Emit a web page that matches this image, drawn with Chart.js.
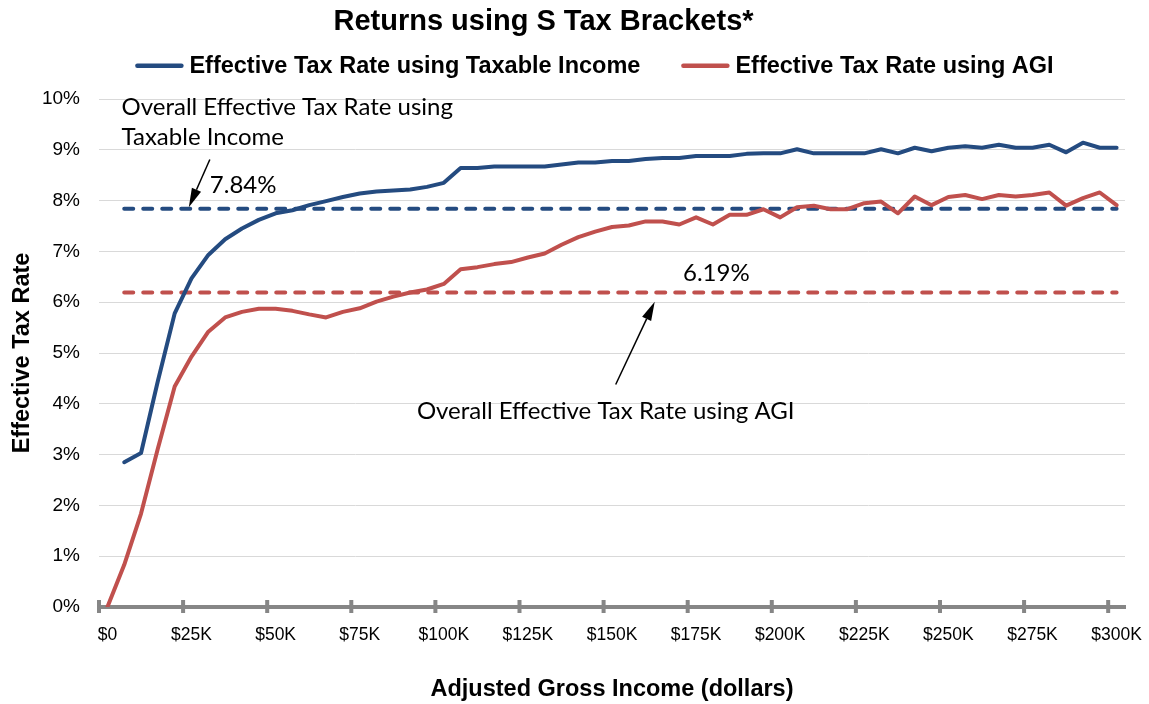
<!DOCTYPE html>
<html>
<head>
<meta charset="utf-8">
<script src="https://cdn.jsdelivr.net/npm/chart.js@4.4.1/dist/chart.umd.min.js"></script>
<style>
  html, body { margin: 0; padding: 0; background: #ffffff; }
  #wrap { position: relative; width: 1149px; height: 704px; }
</style>
</head>
<body>
<div id="wrap"><canvas id="chart"></canvas></div>
<script>
// AGI brackets, in thousands of dollars
const agiThousands = [0, 5, 10, 15, 20, 25, 30, 35, 40, 45, 50, 55, 60, 65, 70, 75, 80, 85, 90, 95,
  100, 105, 110, 115, 120, 125, 130, 135, 140, 145, 150, 155, 160, 165, 170, 175, 180, 185, 190, 195,
  200, 205, 210, 215, 220, 225, 230, 235, 240, 245, 250, 255, 260, 265, 270, 275, 280, 285, 290, 295, 300];

// Effective tax rate (%) computed on taxable income
const rateTaxable = [null, 2.85, 3.03, 4.45, 5.78, 6.47, 6.93, 7.24, 7.45, 7.62,
  7.75, 7.81, 7.91, 7.99, 8.07, 8.14, 8.18, 8.20, 8.22, 8.27,
  8.35, 8.64, 8.64, 8.67, 8.67, 8.67, 8.67, 8.71, 8.75, 8.75,
  8.78, 8.78, 8.82, 8.84, 8.84, 8.88, 8.88, 8.88, 8.92, 8.93,
  8.93, 9.01, 8.93, 8.93, 8.93, 8.93, 9.01, 8.93, 9.04, 8.97,
  9.04, 9.07, 9.04, 9.10, 9.04, 9.04, 9.10, 8.95, 9.14, 9.04, 9.04];

// Effective tax rate (%) computed on AGI
const rateAGI = [0.00, 0.83, 1.84, 3.12, 4.34, 4.93, 5.42, 5.70, 5.81, 5.87,
  5.87, 5.83, 5.76, 5.70, 5.81, 5.88, 6.01, 6.11, 6.19, 6.25,
  6.36, 6.65, 6.69, 6.75, 6.79, 6.88, 6.96, 7.13, 7.28, 7.39,
  7.48, 7.51, 7.59, 7.59, 7.53, 7.67, 7.53, 7.72, 7.72, 7.83,
  7.67, 7.87, 7.90, 7.83, 7.83, 7.95, 7.98, 7.75, 8.08, 7.91,
  8.07, 8.11, 8.03, 8.11, 8.08, 8.11, 8.16, 7.90, 8.05, 8.16, 7.91];

// Overall effective rates across all returns
const overallTaxable = 7.84;
const overallAGI = 6.19;

// Y axis range (percent)
const yRange = [0, 10];
const yStep = 1;
const labelEvery = 5;

const chartTitle = 'Returns using S Tax Brackets*';
const seriesNames = ['Effective Tax Rate using Taxable Income', 'Effective Tax Rate using AGI'];
const xTitle = 'Adjusted Gross Income (dollars)';
const yTitle = 'Effective Tax Rate';

const BLUE = '#244B80';
const RED = '#C0504D';
const AXIS_GRAY = '#868686';
const SANS = '"Liberation Sans", Arial, sans-serif';
const NOTE_FONT = '24px Lato, "Open Sans", sans-serif';

const categories = agiThousands.map(v => (v === 0 ? '$0' : '$' + v + 'K'));
const firstIdx = 1, lastIdx = categories.length - 1;

// Callout texts and arrows, anchored in axis units (category index, percent)
const notes = [
  { text: 'Overall Effective Tax Rate using', at: [0.84, 9.69] },
  { text: 'Taxable Income', at: [0.84, 9.10] },
  { text: overallTaxable.toFixed(2) + '%', at: [6.09, 8.15] },
  { text: overallAGI.toFixed(2) + '%', at: [34.22, 6.42] },
  { text: 'Overall Effective Tax Rate using AGI', at: [18.4, 3.71] }
];
const arrows = [
  { from: [6.09, 8.81], to: [4.84, 7.87] },
  { from: [30.22, 4.38], to: [32.54, 6.01] }
];

// Title and legend header drawn above the plot
const headerPlugin = {
  id: 'header',
  afterDraw(chart) {
    const ctx = chart.ctx;
    ctx.save();
    ctx.fillStyle = '#000';
    ctx.textBaseline = 'alphabetic';
    ctx.font = 'bold 29px ' + SANS;
    ctx.textAlign = 'center';
    ctx.fillText(chartTitle, 543.5, 30);

    ctx.font = 'bold 23.5px ' + SANS;
    ctx.textAlign = 'left';
    const items = chart.data.datasets.filter(d => d.showInLegend);
    const sampleW = 48, sampleGap = 6, itemGap = 41;
    const widths = items.map(d => ctx.measureText(d.label).width);
    const total = widths.reduce((a, w) => a + sampleW + sampleGap + w, 0) + itemGap * (items.length - 1);
    let x = 594.5 - total / 2;
    items.forEach((d, i) => {
      ctx.strokeStyle = d.borderColor;
      ctx.lineWidth = 4.5;
      ctx.lineCap = 'round';
      ctx.beginPath();
      ctx.moveTo(x + 2, 65.7);
      ctx.lineTo(x + sampleW - 2, 65.7);
      ctx.stroke();
      x += sampleW + sampleGap;
      ctx.fillText(d.label, x, 72.5);
      x += widths[i] + itemGap;
    });
    ctx.restore();
  }
};

// Axis tick marks that straddle the x axis line
const axisTickPlugin = {
  id: 'axisTicks',
  afterDraw(chart) {
    const xs = chart.scales.x;
    const ctx = chart.ctx;
    const half = (xs.getPixelForValue(1) - xs.getPixelForValue(0)) / 2;
    const yb = chart.chartArea.bottom;
    ctx.save();
    ctx.fillStyle = AXIS_GRAY;
    for (let i = 0; i < categories.length; i += labelEvery) {
      const px = xs.getPixelForValue(i) - half;
      ctx.fillRect(px - 2, yb - 7, 4, 13);
    }
    ctx.restore();
  }
};

// Callout labels and arrows
const notePlugin = {
  id: 'notes',
  afterDatasetsDraw(chart) {
    const xs = chart.scales.x, ys = chart.scales.y, ctx = chart.ctx;
    const P = a => [xs.getPixelForValue(a[0]), ys.getPixelForValue(a[1])];
    ctx.save();
    ctx.fillStyle = '#000';
    ctx.font = NOTE_FONT;
    ctx.textAlign = 'left';
    ctx.textBaseline = 'alphabetic';
    notes.forEach(n => {
      const [x, y] = P(n.at);
      ctx.fillText(n.text, x, y);
    });
    ctx.strokeStyle = '#000';
    ctx.lineWidth = 1.5;
    arrows.forEach(a => {
      const [x1, y1] = P(a.from);
      const [x2, y2] = P(a.to);
      const ang = Math.atan2(y2 - y1, x2 - x1);
      const headLen = 19, headHalf = 5;
      const bx = x2 - headLen * Math.cos(ang), by = y2 - headLen * Math.sin(ang);
      ctx.beginPath();
      ctx.moveTo(x1, y1);
      ctx.lineTo(bx, by);
      ctx.stroke();
      ctx.beginPath();
      ctx.moveTo(x2, y2);
      ctx.lineTo(bx + headHalf * Math.sin(ang), by - headHalf * Math.cos(ang));
      ctx.lineTo(bx - headHalf * Math.sin(ang), by + headHalf * Math.cos(ang));
      ctx.closePath();
      ctx.fill();
    });
    ctx.restore();
  }
};

const solid = (label, data, color) => ({
  label, data, borderColor: color, backgroundColor: color, showInLegend: true,
  borderWidth: 4, pointRadius: 0, tension: 0, spanGaps: false,
  borderJoinStyle: 'round', borderCapStyle: 'round'
});
const dashed = (label, value, color) => ({
  label,
  data: [{ x: categories[firstIdx], y: value }, { x: categories[lastIdx], y: value }],
  borderColor: color, backgroundColor: color, showInLegend: false,
  borderWidth: 4, pointRadius: 0, borderDash: [9, 10], borderCapStyle: 'round'
});

new Chart(document.getElementById('chart'), {
  type: 'line',
  data: {
    labels: categories,
    datasets: [
      solid(seriesNames[0], rateTaxable, BLUE),
      solid(seriesNames[1], rateAGI, RED),
      dashed('Overall Effective Tax Rate using Taxable Income', overallTaxable, BLUE),
      dashed('Overall Effective Tax Rate using AGI', overallAGI, RED)
    ]
  },
  options: {
    responsive: true,
    maintainAspectRatio: false,
    animation: false,
    devicePixelRatio: 1,
    layout: { padding: { top: 99, right: 24, bottom: 0, left: 0 } },
    plugins: {
      legend: { display: false },
      title: { display: false },
      tooltip: { enabled: false }
    },
    scales: {
      x: {
        type: 'category',
        offset: true,
        grid: {
          display: true, offset: true, drawOnChartArea: false,
          drawTicks: true, tickLength: 14, tickColor: 'rgba(0,0,0,0)'
        },
        border: { display: true, color: AXIS_GRAY, width: 4 },
        ticks: {
          autoSkip: false, maxRotation: 0, minRotation: 0, padding: 4,
          color: '#000', font: { family: SANS, size: 17.5 },
          callback: function (val, i) { return i % labelEvery === 0 ? this.getLabelForValue(val) : ''; }
        },
        title: {
          display: true, text: xTitle, color: '#000',
          font: { family: SANS, size: 23.5, weight: 'bold' },
          padding: { top: 0, bottom: 0 }
        },
        afterFit: s => { s.height = 97; }
      },
      y: {
        min: yRange[0], max: yRange[1],
        grid: { color: '#D9D9D9', lineWidth: 1, drawTicks: false },
        border: { display: false },
        ticks: {
          stepSize: yStep, padding: 19, color: '#000',
          font: { family: SANS, size: 19 },
          callback: v => v + '%'
        },
        title: {
          display: true, text: yTitle, color: '#000',
          font: { family: SANS, size: 23.5, weight: 'bold' },
          padding: { top: 8, bottom: 0 }
        },
        afterFit: s => { s.width = 99; }
      }
    }
  },
  plugins: [headerPlugin, axisTickPlugin, notePlugin]
});
</script>
</body>
</html>
